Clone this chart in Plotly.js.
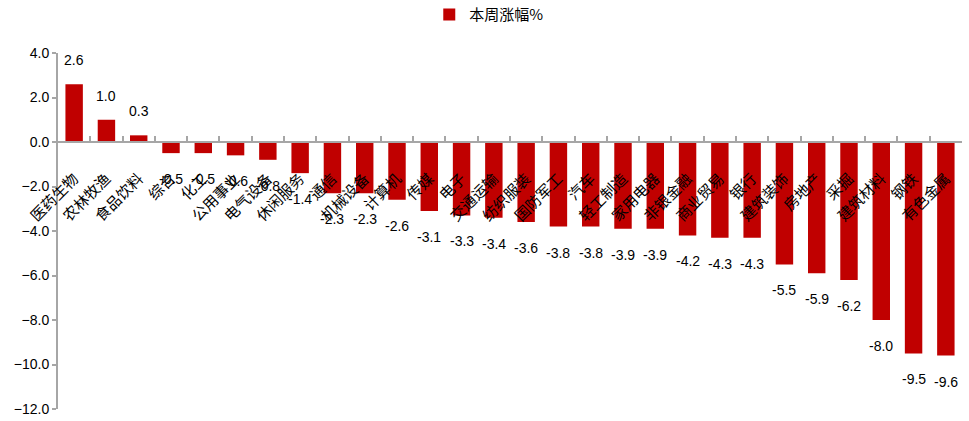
<!DOCTYPE html>
<html>
<head>
<meta charset="utf-8">
<script src="https://cdn.plot.ly/plotly-3.0.1.min.js"></script>
<style>
  html, body { margin: 0; padding: 0; background: #fff; }
  #chart { width: 969px; height: 421px; }
</style>
</head>
<body>
<div id="chart"></div>
<script>
// 申万一级行业本周涨跌幅（%）
const industries = [
  '医药生物', '农林牧渔', '食品饮料', '综合', '化工', '公用事业', '电气设备',
  '休闲服务', '通信', '机械设备', '计算机', '传媒', '电子', '交通运输',
  '纺织服装', '国防军工', '汽车', '轻工制造', '家用电器', '非银金融',
  '商业贸易', '银行', '建筑装饰', '房地产', '采掘', '建筑材料', '钢铁', '有色金属'
];
const weeklyChange = [
  2.6, 1.0, 0.3, -0.5, -0.5, -0.6, -0.8,
  -1.4, -2.3, -2.3, -2.6, -3.1, -3.3, -3.4,
  -3.6, -3.8, -3.8, -3.9, -3.9, -4.2,
  -4.3, -4.3, -5.5, -5.9, -6.2, -8.0, -9.5, -9.6
];
const seriesName = '本周涨幅%';
const yRange = [-12, 4];

const barColor = '#C00000';
const axisGrey = '#A6A6A6';
const latin = 'Liberation Sans, Arial, sans-serif';
const cjk = 'Noto Sans CJK SC, sans-serif';

const trace = {
  type: 'bar',
  x: industries,
  y: weeklyChange,
  name: seriesName,
  marker: { color: barColor },
  hoverinfo: 'x+y'
};

// value labels sit a little beyond the end of each bar
const labels = industries.map((name, i) => ({
  x: name,
  y: weeklyChange[i],
  xref: 'x',
  yref: 'y',
  text: weeklyChange[i].toFixed(1),
  showarrow: false,
  yanchor: 'middle',
  yshift: weeklyChange[i] >= 0 ? 24 : -26,
  font: { family: latin, size: 14, color: '#000' }
}));

// category axis is pinned to the zero line
const zeroPos = (0 - yRange[0]) / (yRange[1] - yRange[0]);

const layout = {
  width: 969,
  height: 421,
  margin: { l: 58, r: 7, t: 53, b: 12 },
  paper_bgcolor: '#fff',
  plot_bgcolor: '#fff',
  bargap: 0.46,
  showlegend: true,
  legend: {
    orientation: 'h',
    xref: 'container',
    yref: 'container',
    x: 0.443,
    xanchor: 'left',
    y: 0.965,
    yanchor: 'middle',
    font: { family: cjk, size: 15, color: '#000' },
    itemwidth: 30
  },
  xaxis: {
    type: 'category',
    anchor: 'free',
    position: zeroPos,
    showline: true,
    linecolor: axisGrey,
    linewidth: 2,
    ticks: 'inside',
    tickson: 'boundaries',
    ticklen: 5,
    tickcolor: axisGrey,
    tickwidth: 2,
    tickangle: -45,
    ticklabelstandoff: 21,
    tickfont: { family: cjk, size: 15, color: '#000' },
    showgrid: false,
    zeroline: false,
    fixedrange: true
  },
  yaxis: {
    range: yRange,
    dtick: 2,
    tick0: 0,
    tickformat: '.1f',
    showline: true,
    linecolor: axisGrey,
    linewidth: 2,
    ticks: 'outside',
    ticklen: 4,
    tickcolor: axisGrey,
    tickwidth: 2,
    tickfont: { family: latin, size: 14, color: '#000' },
    showgrid: false,
    zeroline: false,
    fixedrange: true
  },
  annotations: labels
};

Plotly.newPlot('chart', [trace], layout, { displayModeBar: false, staticPlot: true });
</script>
</body>
</html>
